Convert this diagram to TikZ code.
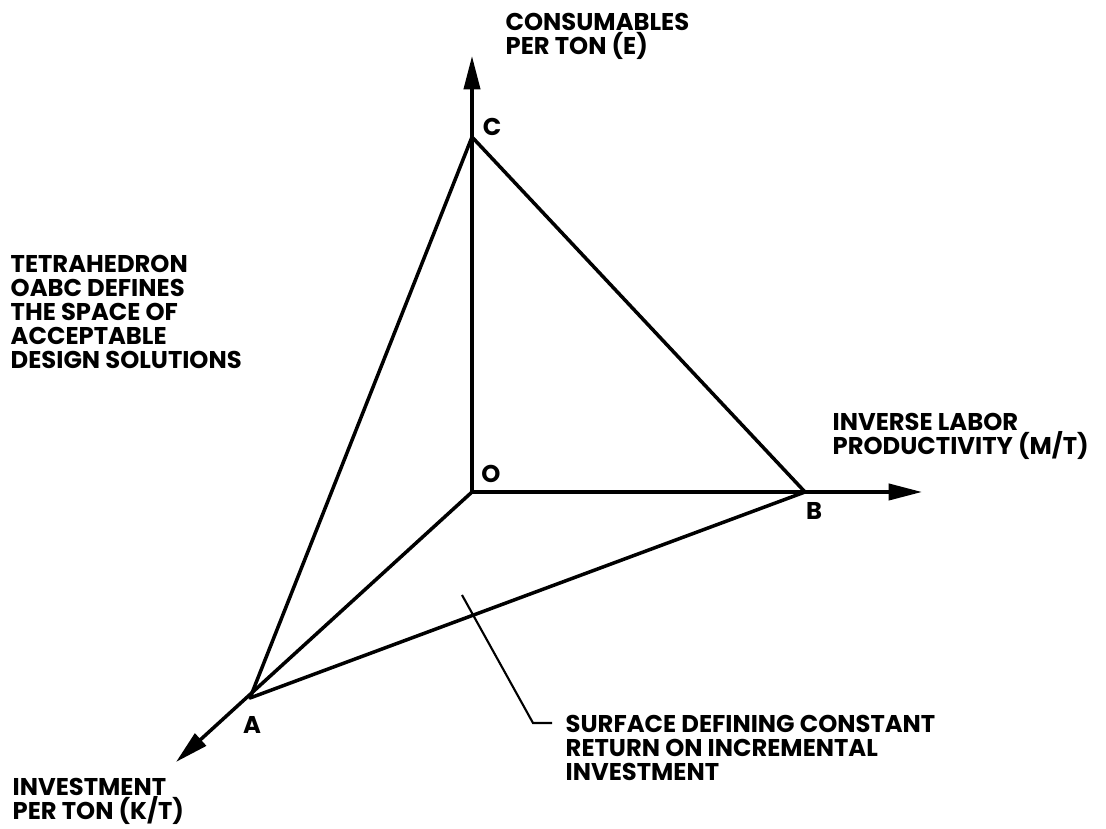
\documentclass[tikz,border=0pt]{standalone}
\usepackage{fontspec}
\setmainfont{Poppins}
\usepackage{tikz}
\usetikzlibrary{arrows.meta}
\usetikzlibrary{positioning}

\begin{document}
\begin{tikzpicture}[
            >={Triangle[length=9.5pt, width=4.6pt]},
            edge/.style={line width=1pt, line join=round},
            leader/.style={line width=0.6pt},
            caption/.style={align=left, inner sep=0pt, anchor=north west,
                            font=\fontsize{6.9}{6.8}\selectfont\bfseries},
            vertex/.style={inner sep=0pt, font=\fontsize{6.9}{6.8}\selectfont\bfseries},
        ]

        % Frame of the picture
        \useasboundingbox (-4.72, 4.92) rectangle (6.34, -3.37);

        % Corners of the tetrahedron
        \coordinate (origin) at (0, 0);
        \coordinate (corner_c) at (0, 3.55);
        \coordinate (corner_b) at (3.33, 0);
        \coordinate (corner_a) at (-2.22, -2.06);

        % Ends of the three axes
        \coordinate (axis_e) at (0, 4.36);
        \coordinate (axis_m) at (4.50, 0);
        \coordinate (axis_k) at (-2.96, -2.70);

        % Axes
        \draw[edge, ->] (origin) -- (axis_e);
        \draw[edge, ->] (origin) -- (axis_m);
        \draw[edge, ->] (origin) -- (axis_k);

        % Faces of the tetrahedron
        \draw[edge] (corner_a) -- (corner_c) -- (corner_b) -- cycle;

        % Corner labels
        \node[vertex] (label_c) at (0.20, 3.65) {C};
        \node[vertex] (label_o) at (0.19, 0.18) {O};
        \node[vertex] (label_b) at (3.42, -0.19) {B};
        \node[vertex] (label_a) at (-2.20, -2.33) {A};

        % Axis captions
        \node[caption] (label_e) at (0.33, 4.79) {CONSUMABLES\\PER TON (E)};
        \node[caption] (label_m) at (3.60, 0.79) {INVERSE LABOR\\PRODUCTIVITY (M/T)};
        \node[caption] (label_k) at (-4.60, -2.86) {INVESTMENT\\PER TON (K/T)};

        % Note on the left
        \node[caption] (label_space) at (-4.62, 2.37) {TETRAHEDRON\\OABC DEFINES\\THE SPACE OF\\ACCEPTABLE\\DESIGN SOLUTIONS};

        % Surface note and its leader
        \node[caption] (label_surface) at (0.93, -2.23) {SURFACE DEFINING CONSTANT\\RETURN ON INCREMENTAL\\INVESTMENT};
        \coordinate (leader_start) at (-0.10, -1.03);
        \coordinate (leader_bend) at (0.61, -2.31);
        \coordinate (leader_end) at (0.80, -2.31);
        \draw[leader] (leader_start) -- (leader_bend) -- (leader_end);

        \end{tikzpicture}
\end{document}
